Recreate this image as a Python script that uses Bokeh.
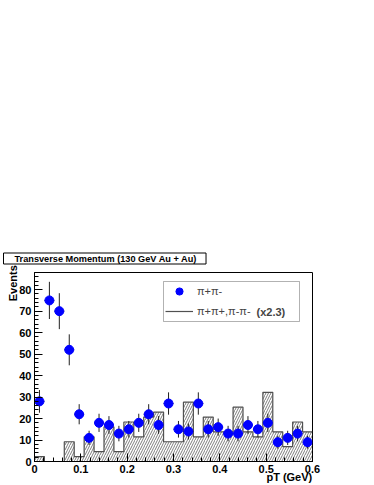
import math
import numpy as np
from bokeh.plotting import figure
from bokeh.models import (ColumnDataSource, BoxAnnotation, Legend, LegendItem, Label,
                          FixedTicker, LinearAxis, AllLabels)
from bokeh.embed import file_html
from bokeh.resources import INLINE

# ---------------- data ----------------
pt_min, pt_max, n_bins = 0.0, 0.6, 28
unlike_counts = [28, 75, 70, 52, 22, 11, 18, 17, 13, 15, 18, 22, 17, 27,
                 15, 14, 27, 15, 16, 13, 13, 17, 15, 18, 9, 11, 13, 9]
like_hist = [2.3, 0.0, 0.0, 9.2, 2.3, 11.5, 4.6, 16.1, 4.6, 18.4, 11.5, 20.7, 23.0, 9.2,
             9.2, 27.6, 11.5, 20.7, 13.8, 13.8, 25.3, 13.8, 11.5, 32.2, 13.8, 6.9, 18.4, 13.8]
x_ticks = [0, 0.1, 0.2, 0.3, 0.4, 0.5, 0.6]
y_ticks = [0, 10, 20, 30, 40, 50, 60, 70, 80]
title_text = "Transverse Momentum (130 GeV Au + Au)"
label_unlike = "\u03c0+\u03c0-"
label_like = "\u03c0+\u03c0+,\u03c0-\u03c0-"
label_scale = "(x2.3)"
x_title = "pT (GeV)"
y_title = "Events"

# ---------------- layout ----------------
W, H = 374, 485
FL, FR, FT, FB = 34, 312, 272, 461
y_max = 88

def X(px):
    return pt_min + (px - FL) / (FR - FL) * (pt_max - pt_min)

def Y(py):
    return (FB - py) / (FB - FT) * y_max

edges = np.linspace(pt_min, pt_max, n_bins + 1)
centers = 0.5 * (edges[:-1] + edges[1:])
half = 0.5 * (edges[1] - edges[0])
cnt = np.array(unlike_counts, dtype=float)
err = np.sqrt(cnt)

FONT = "Liberation Sans"

p = figure(width=W, height=H, output_backend="svg", toolbar_location=None,
           x_range=(pt_min, pt_max), y_range=(0, y_max),
           min_border_left=FL, min_border_right=W - FR,
           min_border_top=FT, min_border_bottom=H - FB)
p.grid.visible = False
p.outline_line_color = "black"
p.outline_line_width = 1
p.background_fill_color = "white"
p.border_fill_color = "white"

# title in a box
p.title.text = title_text
p.title.align = "left"
p.title.offset = -31
p.title.standoff = 17
p.title.text_font = FONT
p.title.text_font_style = "bold"
p.title.text_font_size = "9.2px"
p.title.text_color = "black"
p.title.border_line_color = "black"
p.title.background_fill_color = "white"
p.title.padding = dict(left=11, right=9, top=1, bottom=0)

main_x = p.xaxis[0]
main_y = p.yaxis[0]
for ax in (main_x, main_y):
    ax.major_tick_in = 8
    ax.major_tick_out = 0
    ax.minor_tick_in = 4
    ax.minor_tick_out = 0
    ax.axis_line_color = "black"
    ax.major_tick_line_color = "black"
    ax.minor_tick_line_color = "black"
    ax.major_label_text_font = FONT
    ax.major_label_text_font_style = "bold"
    ax.major_label_text_font_size = "11px"
    ax.major_label_text_color = "black"
    ax.major_label_policy = AllLabels()

main_x.ticker = FixedTicker(ticks=x_ticks,
                            minor_ticks=list(np.round(np.arange(0, 0.6001, 0.02), 3)))
main_y.ticker = FixedTicker(ticks=y_ticks, minor_ticks=list(range(0, 89, 2)))
main_x.major_label_overrides = {0: "0"}
main_x.major_label_standoff = 3
main_y.major_label_standoff = 3

def title_axis(pos, text, orientation, standoff):
    return LinearAxis(ticker=FixedTicker(ticks=[pos]),
                      major_label_overrides={pos: text},
                      major_label_orientation=orientation,
                      major_label_standoff=standoff,
                      major_tick_in=0, major_tick_out=0, minor_tick_in=0, minor_tick_out=0,
                      axis_line_color=None, major_tick_line_color=None,
                      minor_tick_line_color=None,
                      major_label_text_font=FONT, major_label_text_font_style="bold",
                      major_label_text_font_size="11px", major_label_text_color="black")

# axis titles as label-only axes (placed like ROOT's: top of y, right end of x)
p.add_layout(title_axis(83.0, y_title, "vertical", -3), "left")
p.add_layout(title_axis(0.55, x_title, "horizontal", -5), "below")

# histogram (hatched)
hsrc = ColumnDataSource(dict(left=edges[:-1], right=edges[1:], top=like_hist,
                             bottom=[0] * n_bins))
p.quad(left="left", right="right", top="top", bottom="bottom", source=hsrc,
       fill_alpha=0, line_color=None, hatch_pattern="/", hatch_color="#444444",
       hatch_scale=5, hatch_weight=0.7)
step_r = p.step(x=list(edges), y=list(like_hist) + [like_hist[-1]], mode="after",
                line_color="#505050", line_width=1.2)

# data points with error bars
psrc = ColumnDataSource(dict(x=centers, y=cnt, lo=cnt - err, hi=cnt + err,
                             xl=centers - half, xr=centers + half))
p.segment(x0="x", y0="lo", x1="x", y1="hi", source=psrc, line_color="#222222", line_width=1)
p.segment(x0="xl", y0="y", x1="xr", y1="y", source=psrc, line_color="#222222", line_width=1)
pts_r = p.scatter(x="x", y="y", source=psrc, size=9, marker="circle",
                  fill_color="#0000ff", line_color="#0000ff")

# legend box and legend
p.add_layout(BoxAnnotation(left=X(163), right=X(299), top=Y(281), bottom=Y(321),
                           fill_color="white", fill_alpha=1, line_color="black",
                           line_width=1))
leg = Legend(items=[LegendItem(label=label_unlike, renderers=[pts_r]),
                    LegendItem(label=label_like, renderers=[step_r])],
             location=(165 - FL, FB - 320), padding=0, margin=0, spacing=2,
             glyph_width=28, glyph_height=18, label_height=18, label_standoff=4,
             label_text_font=FONT, label_text_font_size="11px",
             border_line_color=None, background_fill_alpha=0)
p.add_layout(leg, "center")
p.add_layout(Label(x=X(256), y=Y(311), text=label_scale, text_font=FONT,
                   text_font_style="bold", text_font_size="11px",
                   text_align="left", text_baseline="middle"))

open("out.html", "w").write(file_html(p, INLINE))
